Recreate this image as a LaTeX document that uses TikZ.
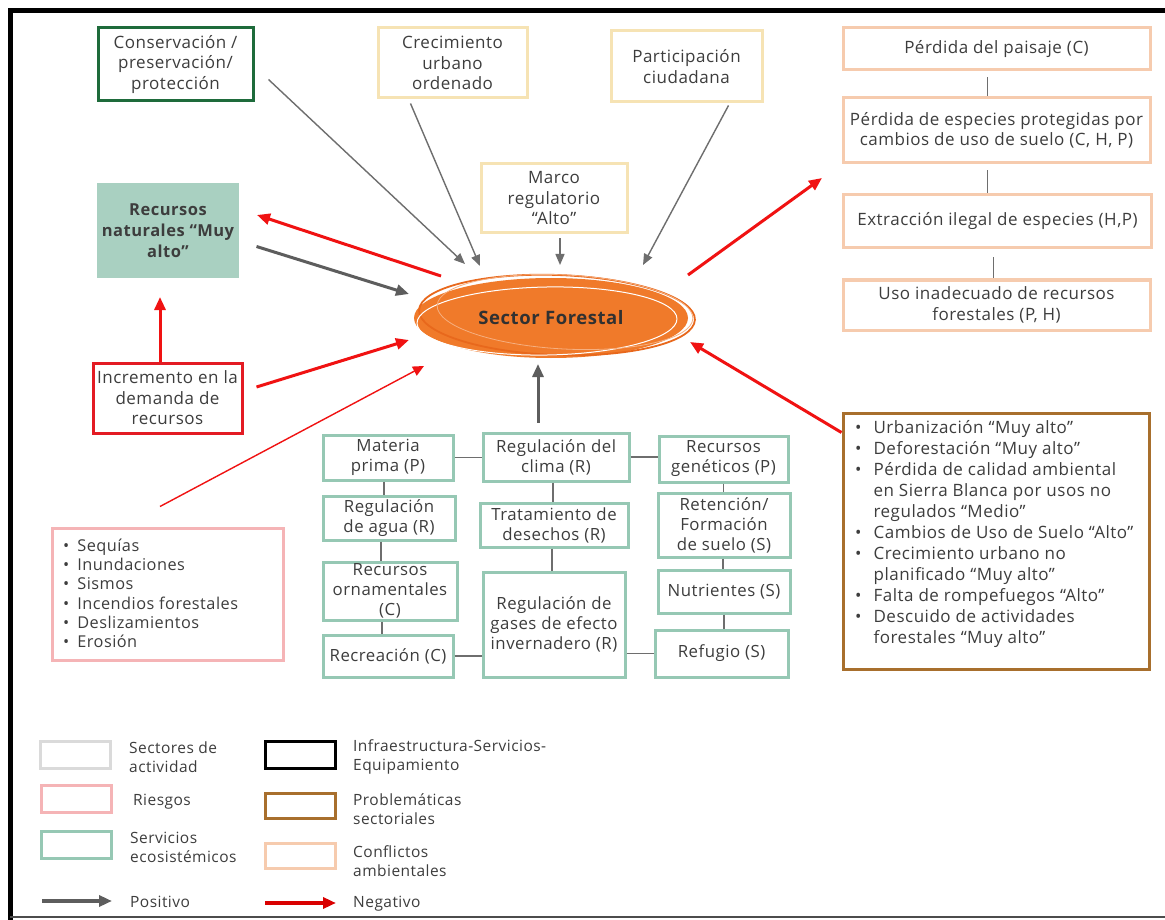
\documentclass[tikz,border=0pt]{standalone}
\usepackage{fontspec}
\setmainfont[LetterSpace=3]{Open Sans}
\usetikzlibrary{arrows.meta,shapes.geometric,calc}
\definecolor{txt}{HTML}{3D3D3D}
\definecolor{posgray}{HTML}{6E6E6E}
\definecolor{negred}{HTML}{F01212}
\definecolor{forange}{HTML}{F07A2A}
\definecolor{forangedk}{HTML}{E8681C}
\definecolor{sectyel}{HTML}{F6E3B4}
\definecolor{consgreen}{HTML}{1E6B3B}
\definecolor{servgreen}{HTML}{96C8B4}
\definecolor{rnfill}{HTML}{A9D0C1}
\definecolor{peach}{HTML}{F6CBAE}
\definecolor{brownbox}{HTML}{A86F2D}
\definecolor{pinkbox}{HTML}{F5B4B6}
\definecolor{redbox}{HTML}{E31B23}
\definecolor{lgray}{HTML}{DADADA}
\tikzset{
  basebox/.style={draw, line width=3pt, text=txt, align=center, inner sep=0pt,
    font=\fontsize{17}{20.5}\selectfont},
  sectorbox/.style={basebox, draw=sectyel},
  consbox/.style={basebox, draw=consgreen},
  servbox/.style={basebox, draw=servgreen, font=\fontsize{16.8}{20}\selectfont},
  conflbox/.style={basebox, draw=peach},
  riskred/.style={basebox, draw=redbox},
  link/.style={draw=posgray, line width=1.2pt},
  posarrow/.style={draw=posgray, line width=1.4pt, -{Triangle[length=11pt,width=9pt]}},
  posthick/.style={draw=posgray!85!black, line width=3pt, -{Triangle[length=13pt,width=11pt]}},
  negarrow/.style={draw=negred, line width=3pt, -{Triangle[length=13pt,width=11pt]}},
  negthin/.style={draw=negred, line width=1.4pt, -{Triangle[length=11pt,width=10pt]}},
  legtext/.style={anchor=west, text=txt, align=left, inner sep=0pt,
    font=\fontsize{15.5}{19}\selectfont},
  legbox/.style={draw, line width=3pt, minimum width=70pt, minimum height=27pt, inner sep=0pt},
}
\begin{document}
\begin{tikzpicture}[x=1pt,y=-1pt]
\useasboundingbox (0,0) rectangle (1165,920);
\fill[white] (0,0) rectangle (1165,920);
% frame
\draw[line width=5pt] (10.5,1200) -- (10.5,10.5) -- (1200,10.5);
\draw[line width=2pt, draw=black!70] (10,917) -- (1200,917);

% top boxes
\node[consbox, minimum width=155pt, minimum height=73pt] (cons) at (175.5,64.5) {Conservación /\\preservación/\\protección};
\node[sectorbox, minimum width=149pt, minimum height=70pt] (crec) at (452.5,63) {Crecimiento\\urbano\\ordenado};
\node[sectorbox, minimum width=151pt, minimum height=71pt] (part) at (686.5,66.5) {Participación\\ciudadana};
\node[sectorbox, minimum width=146pt, minimum height=69pt] (marco) at (554,198.5) {Marco\\regulatorio\\“Alto”};
\node[basebox, draw=none, fill=rnfill, minimum width=142pt, minimum height=95pt, font=\bfseries\fontsize{16.5}{21}\selectfont] (rn) at (168,230.5) {Recursos\\naturales “Muy\\alto”};
\node[riskred, minimum width=149pt, minimum height=70pt] (inc) at (167.5,398) {Incremento en la\\demanda de\\recursos};

% central ellipse
\node[ellipse, fill=forange, minimum width=274pt, minimum height=80pt, inner sep=0pt,
  text=txt!80!black, font=\bfseries\fontsize{18.5}{20}\selectfont] (sf) at (551,318) {Sector Forestal};
\draw[forangedk, line width=1.8pt] ($(sf.center)+(6,-3)$) ellipse [x radius=138, y radius=40, rotate=-2];
\draw[white, line width=1pt] ($(sf.center)+(-4,3)$) ellipse [x radius=130, y radius=34, rotate=1];
\draw[forange!60, line width=0.8pt] ($(sf.center)+(14,-6)$) ellipse [x radius=128, y radius=37, rotate=-3];

% conflict boxes right
\node[conflbox, minimum width=307pt, minimum height=42pt] (pais) at (996.5,49) {Pérdida del paisaje (C)};
\node[conflbox, minimum width=307pt, minimum height=65pt] (esp) at (996.5,130.5) {Pérdida de especies protegidas por\\cambios de uso de suelo (C, H, P)};
\node[conflbox, minimum width=308pt, minimum height=53pt] (extr) at (997.5,221.5) {Extracción ilegal de especies (H,P)};
\node[conflbox, minimum width=307pt, minimum height=50pt] (uso) at (996.5,305) {Uso inadecuado de recursos\\forestales (P, H)};
\draw[link] ([xshift=-9pt,yshift=-6pt]pais.south) -- ([xshift=-9pt]pais.south |- esp.north);
\draw[link] ([xshift=-9pt,yshift=-6pt]esp.south) -- ([xshift=-9pt]esp.south |- extr.north);
\draw[link] ([xshift=-4pt,yshift=-8pt]extr.south) -- ([xshift=-4pt]extr.south |- uso.north);

% problematicas
\node[basebox, draw=brownbox, minimum width=306pt, minimum height=256pt] (prob) at (996,541) {};
\node[anchor=north west, inner sep=0pt, text=txt, font=\fontsize{17}{21}\selectfont] (probtxt) at (855,418.5) {%
\begin{tabular}{@{}l@{\hspace{12pt}}l@{}}
\textbullet & Urbanización “Muy alto”\\
\textbullet & Deforestación “Muy alto”\\
\textbullet & Pérdida de calidad ambiental\\
 & en Sierra Blanca por usos no\\
 & regulados “Medio”\\
\textbullet & Cambios de Uso de Suelo “Alto”\\
\textbullet & Crecimiento urbano no\\
 & planificado “Muy alto”\\
\textbullet & Falta de rompefuegos “Alto”\\
\textbullet & Descuido de actividades\\
 & forestales “Muy alto”
\end{tabular}};

% riesgos
\node[basebox, draw=pinkbox, minimum width=231pt, minimum height=132pt] (ries) at (167.5,594) {};
\node[anchor=north west, inner sep=0pt, text=txt, font=\fontsize{16.3}{19.3}\selectfont] (riestxt) at (63,537.5) {%
\begin{tabular}{@{}l@{\hspace{8pt}}l@{}}
\textbullet & Sequías\\
\textbullet & Inundaciones\\
\textbullet & Sismos\\
\textbullet & Incendios forestales\\
\textbullet & Deslizamientos\\
\textbullet & Erosión
\end{tabular}};

% ecosystem services
\node[servbox, minimum width=130pt, minimum height=45pt] (mp) at (388,457.5) {Materia\\prima (P)};
\node[servbox, minimum width=146pt, minimum height=48pt] (clima) at (556,457) {Regulación del\\clima (R)};
\node[servbox, minimum width=129pt, minimum height=46pt] (gen) at (723.5,459) {Recursos\\genéticos (P)};
\node[servbox, minimum width=132pt, minimum height=44pt] (agua) at (389,518) {Regulación\\de agua (R)};
\node[servbox, minimum width=148pt, minimum height=44pt] (trat) at (554,525) {Tratamiento de\\desechos (R)};
\node[servbox, minimum width=132pt, minimum height=64pt] (ret) at (724,525) {Retención/\\Formación\\de suelo (S)};
\node[servbox, minimum width=134pt, minimum height=58pt] (orn) at (390,591) {Recursos\\ornamentales\\(C)};
\node[servbox, minimum width=142pt, minimum height=105pt] (gas) at (554,624.5) {Regulación de\\gases de efecto\\invernadero (R)};
\node[servbox, minimum width=132pt, minimum height=43pt] (nut) at (724,591.5) {Nutrientes (S)};
\node[servbox, minimum width=130pt, minimum height=42pt] (recr) at (388,656) {Recreación (C)};
\node[servbox, minimum width=133pt, minimum height=47pt] (ref) at (721.5,653.5) {Refugio (S)};

\draw[link] (mp.east) -- (mp.east -| clima.west);
\draw[link] (clima.east) -- (clima.east -| gen.west);
\draw[link] ([xshift=-4pt]mp.south) -- ([xshift=-4pt]mp.south |- agua.north);
\draw[link] ([xshift=-8pt]agua.south) -- ([xshift=-8pt]agua.south |- orn.north);
\draw[link] ([xshift=-8pt]orn.south) -- ([xshift=-8pt]orn.south |- recr.north);
\draw[link] ([xshift=-3pt]clima.south) -- ([xshift=-3pt]clima.south |- trat.north);
\draw[link] ([xshift=-2pt]trat.south) -- ([xshift=-2pt]trat.south |- gas.north);
\draw[link] (gen.south) -- (gen.south |- ret.north);
\draw[link] ([xshift=-1pt]ret.south) -- ([xshift=-1pt]ret.south |- nut.north);
\draw[link] (nut.south) -- (nut.south |- ref.north);
\draw[link] (recr.east) -- (recr.east -| gas.west);
\draw[link] (gas.east |- ref.west) -- (ref.west);

% arrow end points near the central ellipse
\coordinate (sfA) at (465,264);
\coordinate (sfB) at (480,266);
\coordinate (sfC) at (560,265);
\coordinate (sfD) at (643,265);
\coordinate (sfE) at (409,294);
\coordinate (sfF) at (409,340);
\coordinate (sfG) at (424,366);
\coordinate (sfH) at (538,364);
\coordinate (sfI) at (690,342);
\coordinate (sfOutL) at (441,276);
\coordinate (sfOutR) at (688,275);
\coordinate (espIn) at (822,178);
\coordinate (rnIn) at (257,215);
\coordinate (rnInB) at (160,297);

% positive arrows
\draw[posarrow] ([shift={(14,15)}]cons.east) -- (sfA);
\draw[posarrow] ([shift={(-42,4)}]crec.south) -- (sfB);
\draw[posarrow] ([shift={(6,4)}]marco.south) -- (sfC);
\draw[posarrow] ([shift={(42,2)}]part.south) -- (sfD);
\draw[posthick] ([shift={(16,16)}]rn.east) -- (sfE);
\draw[posthick] ([shift={(-18,-9)}]clima.north) -- (sfH);

% negative arrows
\draw[negarrow] (sfOutL) -- (rnIn);
\draw[negarrow] (sfOutR) -- (espIn);
\draw[negarrow] ([shift={(13,-11)}]inc.east) -- (sfF);
\draw[negarrow] ([xshift=-7.5pt]inc.north) -- (rnInB);
\draw[negthin] ([shift={(-7.5,-20)}]ries.north) -- (sfG);
\draw[negarrow] (prob.north west) ++(0,21) coordinate (probOut) -- (sfI);

% legend
\node[legbox, draw=lgray] (lg1) at (75,754.5) {};
\node[legbox, draw=pinkbox] (lg2) at (76,799) {};
\node[legbox, draw=servgreen] (lg3) at (76,845) {};
\coordinate (lg4a) at (42,901);
\coordinate (lg4b) at (112,901);
\draw[posthick, line width=3.5pt] (lg4a) -- (lg4b);
\node[legbox, draw=black] (lg5) at (300,754.5) {};
\node[legbox, draw=brownbox, minimum height=25pt] (lg6) at (300,805.5) {};
\node[legbox, draw=peach, minimum height=25pt] (lg7) at (300,855.5) {};
\coordinate (lg8a) at (265,903);
\coordinate (lg8b) at (336,903);
\draw[negarrow, line width=3.5pt, draw=red!85!black] (lg8a) -- (lg8b);

\node[legtext] (lt1) at (129,757) {Sectores de\\actividad};
\node[legtext] (lt2) at (133,802) {Riesgos};
\node[legtext] (lt3) at (130,847.5) {Servicios\\ecosistémicos};
\node[legtext] (lt4) at (130,902) {Positivo};
\node[legtext] (lt5) at (353,757) {Infraestructura-Servicios-\\Equipamiento};
\node[legtext] (lt6) at (353,809.5) {Problemáticas\\sectoriales};
\node[legtext] (lt7) at (353,861.5) {Conflictos\\ambientales};
\node[legtext] (lt8) at (353,904) {Negativo};
\end{tikzpicture}
\end{document}
